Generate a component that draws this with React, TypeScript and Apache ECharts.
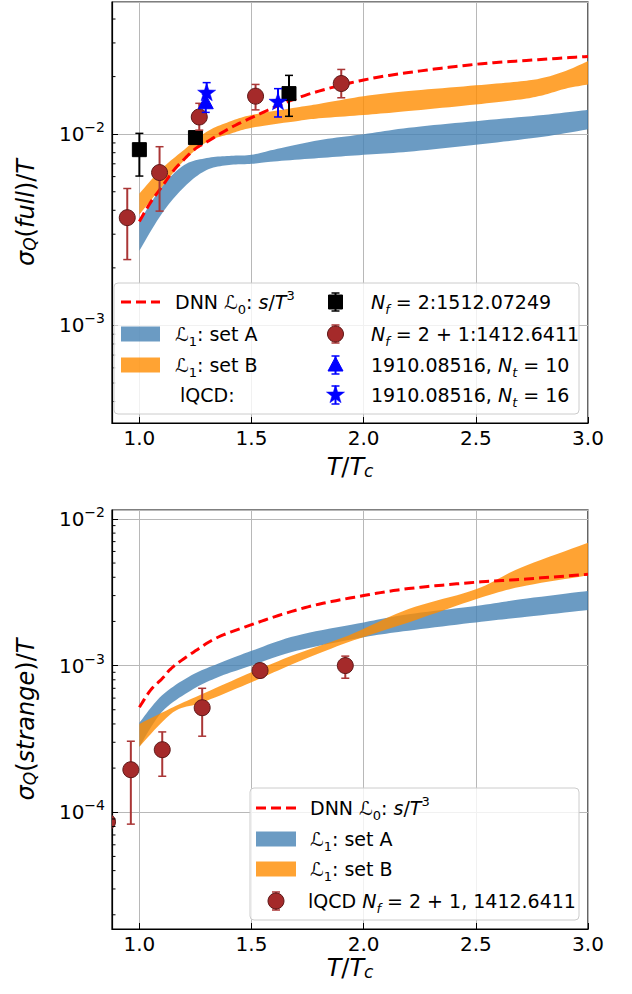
import React, { useEffect, useRef } from 'react';
import * as echarts from 'echarts';

const FONT = 'DejaVu Sans';

// ---------- axes ----------
const X_MIN = 0.878;
const X_MAX = 3.0;
const TOP_Y_MIN = 3.09e-4;
const TOP_Y_MAX = 4.91e-2;
const BOT_Y_MIN = 1.6e-5;
const BOT_Y_MAX = 1.15e-2;
const MINOR_MULTS = [2, 3, 4, 5, 6, 7, 8, 9];
const TOP_DECADES = [1e-4, 1e-3, 1e-2];
const BOT_DECADES = [1e-5, 1e-4, 1e-3, 1e-2];

// ---------- top panel: sigma_Q(full)/T ----------
const fullDnnX = [1.0, 1.05, 1.1, 1.15, 1.2, 1.25, 1.3, 1.4, 1.5, 1.65, 1.8, 2.0, 2.2, 2.5, 2.75, 3.0];
const fullDnnY = [3.5e-3, 4.4e-3, 5.3e-3, 6.4e-3, 7.4e-3, 8.4e-3, 9.1e-3, 1.07e-2, 1.22e-2, 1.46e-2, 1.68e-2, 1.92e-2, 2.1e-2, 2.32e-2, 2.44e-2, 2.55e-2];

const fullAX = [1.0, 1.1, 1.2, 1.3, 1.4, 1.5, 1.6, 1.8, 2.0, 2.2, 2.5, 2.8, 3.0];
const fullAUpper = [3.5e-3, 5.3e-3, 6.9e-3, 7.5e-3, 7.7e-3, 7.8e-3, 8.3e-3, 9.3e-3, 1.0e-2, 1.08e-2, 1.17e-2, 1.26e-2, 1.34e-2];
const fullALower = [2.46e-3, 3.84e-3, 5.3e-3, 6.5e-3, 6.9e-3, 7.0e-3, 7.2e-3, 7.5e-3, 7.8e-3, 8.1e-3, 8.8e-3, 9.7e-3, 1.06e-2];

const fullBX = [1.0, 1.1, 1.2, 1.3, 1.4, 1.5, 1.7, 1.8, 2.0, 2.2, 2.5, 2.7, 2.8, 2.9, 3.0];
const fullBUpper = [4.9e-3, 6.6e-3, 8.3e-3, 1.03e-2, 1.16e-2, 1.26e-2, 1.38e-2, 1.44e-2, 1.58e-2, 1.68e-2, 1.8e-2, 1.89e-2, 1.97e-2, 2.14e-2, 2.41e-2];
const fullBLower = [3.8e-3, 5.3e-3, 7.3e-3, 9.1e-3, 1.0e-2, 1.08e-2, 1.17e-2, 1.21e-2, 1.26e-2, 1.32e-2, 1.43e-2, 1.52e-2, 1.6e-2, 1.73e-2, 1.82e-2];

// lQCD N_f = 2 : 1512.07249 (squares)
const nf2X = [1.0, 1.25, 1.667];
const nf2Y = [8.3e-3, 9.6e-3, 1.63e-2];
const nf2Lo = [6.04e-3, 9.2e-3, 1.24e-2];
const nf2Hi = [1.01e-2, 1.0e-2, 2.03e-2];

// lQCD N_f = 2+1 : 1412.6411 (circles)
const nf21X = [0.946, 1.09, 1.267, 1.518, 1.9];
const nf21Y = [3.66e-3, 6.3e-3, 1.23e-2, 1.58e-2, 1.84e-2];
const nf21Lo = [2.21e-3, 3.96e-3, 1.05e-2, 1.34e-2, 1.55e-2];
const nf21Hi = [5.2e-3, 8.6e-3, 1.45e-2, 1.82e-2, 2.18e-2];

// 1910.08516, N_t = 10 (triangles)
const nt10X = [1.296];
const nt10Y = [1.46e-2];
const nt10Lo = [1.3e-2];
const nt10Hi = [1.62e-2];

// 1910.08516, N_t = 16 (stars)
const nt16X = [1.3, 1.618];
const nt16Y = [1.64e-2, 1.47e-2];
const nt16Lo = [1.4e-2, 1.23e-2];
const nt16Hi = [1.86e-2, 1.73e-2];

// ---------- bottom panel: sigma_Q(strange)/T ----------
const strDnnX = [1.0, 1.05, 1.1, 1.15, 1.25, 1.35, 1.5, 1.65, 1.8, 2.0, 2.2, 2.5, 2.7, 3.0];
const strDnnY = [5.2e-4, 6.8e-4, 8.1e-4, 9.8e-4, 1.26e-3, 1.56e-3, 1.9e-3, 2.27e-3, 2.62e-3, 3.0e-3, 3.35e-3, 3.7e-3, 3.87e-3, 4.19e-3];

const strAX = [1.0, 1.1, 1.23, 1.35, 1.5, 1.7, 2.0, 2.2, 2.5, 2.7, 3.0];
const strAUpper = [4.08e-4, 6.25e-4, 8.55e-4, 1.03e-3, 1.26e-3, 1.6e-3, 1.97e-3, 2.24e-3, 2.55e-3, 2.83e-3, 3.23e-3];
const strALower = [2.79e-4, 4.82e-4, 6.77e-4, 8.33e-4, 1.0e-3, 1.26e-3, 1.56e-3, 1.73e-3, 1.97e-3, 2.13e-3, 2.39e-3];

const strBX = [1.0, 1.15, 1.28, 1.5, 1.7, 1.93, 2.2, 2.5, 2.7, 3.0];
const strBUpper = [4.0e-4, 5.2e-4, 6.4e-4, 9.0e-4, 1.2e-3, 1.6e-3, 2.43e-3, 3.31e-3, 4.65e-3, 6.87e-3];
const strBLower = [2.8e-4, 4.8e-4, 5.6e-4, 7.7e-4, 1.05e-3, 1.44e-3, 1.97e-3, 2.83e-3, 3.45e-3, 4.12e-3];

const strLqX = [0.858, 0.962, 1.102, 1.28, 1.538, 1.918];
const strLqY = [8.6e-5, 1.95e-4, 2.67e-4, 5.16e-4, 9.25e-4, 1.0e-3];
const strLqLo = [6.5e-5, 8.3e-5, 1.76e-4, 3.3e-4, 8.3e-4, 8.2e-4];
const strLqHi = [1.15e-4, 3.05e-4, 3.53e-4, 7.0e-4, 1.0e-3, 1.16e-3];

// ---------- styles ----------
const C_BLUE = 'rgba(70,130,180,0.8)';
const C_ORANGE = 'rgba(255,140,0,0.8)';
const C_BROWN = '#a52a2a';
const C_BROWN_EDGE = '#5e1818';
const C_BROWN_ERR = '#aa3636';
const C_BLUEPT = '#0000ff';

type Kind = 'square' | 'circle' | 'triangle' | 'star';

const ERR_COLOR: Record<Kind, string> = {
  square: '#000000',
  circle: C_BROWN_ERR,
  triangle: C_BLUEPT,
  star: C_BLUEPT,
};

function starPoints(cx: number, cy: number, R: number, r: number) {
  const pts: number[][] = [];
  for (let k = 0; k < 10; k++) {
    const a = -Math.PI / 2 + (k * Math.PI) / 5;
    const rad = k % 2 === 0 ? R : r;
    pts.push([cx + rad * Math.cos(a), cy + rad * Math.sin(a)]);
  }
  return pts;
}

// Catmull-Rom smoothing of an already-projected pixel path (drawing only)
function smoothPath(pts: number[][], seg = 10): number[][] {
  if (pts.length < 3) return pts;
  const out: number[][] = [];
  const n = pts.length;
  for (let i = 0; i < n - 1; i++) {
    const p0 = pts[Math.max(i - 1, 0)];
    const p1 = pts[i];
    const p2 = pts[i + 1];
    const p3 = pts[Math.min(i + 2, n - 1)];
    for (let s = 0; s < seg; s++) {
      const t = s / seg;
      const t2 = t * t;
      const t3 = t2 * t;
      const f = (k: number) =>
        0.5 * (2 * p1[k] + (-p0[k] + p2[k]) * t + (2 * p0[k] - 5 * p1[k] + 4 * p2[k] - p3[k]) * t2 + (-p0[k] + 3 * p1[k] - 3 * p2[k] + p3[k]) * t3);
      out.push([f(0), f(1)]);
    }
  }
  out.push(pts[n - 1]);
  return out;
}

function markerEl(kind: Kind, cx: number, cy: number): any {
  switch (kind) {
    case 'square':
      return { type: 'rect', shape: { x: cx - 7, y: cy - 7, width: 14, height: 14 }, style: { fill: '#000', stroke: '#000', lineWidth: 1 } };
    case 'circle':
      return { type: 'circle', shape: { cx, cy, r: 8 }, style: { fill: C_BROWN, stroke: C_BROWN_EDGE, lineWidth: 1 } };
    case 'triangle':
      return { type: 'polygon', shape: { points: [[cx, cy - 8], [cx + 7.5, cy + 6], [cx - 7.5, cy + 6]] }, style: { fill: C_BLUEPT, stroke: C_BLUEPT, lineWidth: 1 } };
    default:
      return { type: 'polygon', shape: { points: starPoints(cx, cy, 9.5, 3.8) }, style: { fill: C_BLUEPT, stroke: C_BLUEPT, lineWidth: 0.5 } };
  }
}

function errEls(cx: number, yTop: number, yBot: number, color: string): any[] {
  const cap = 4;
  return [
    { type: 'line', shape: { x1: cx, y1: yTop, x2: cx, y2: yBot }, style: { stroke: color, lineWidth: 2 } },
    { type: 'line', shape: { x1: cx - cap, y1: yTop, x2: cx + cap, y2: yTop }, style: { stroke: color, lineWidth: 1.5 } },
    { type: 'line', shape: { x1: cx - cap, y1: yBot, x2: cx + cap, y2: yBot }, style: { stroke: color, lineWidth: 1.5 } },
  ];
}

function bandSeries(g: number, xs: number[], lo: number[], hi: number[], color: string, z: number) {
  return {
    type: 'custom',
    xAxisIndex: g,
    yAxisIndex: g,
    clip: true,
    silent: true,
    z,
    data: xs.map((x, i) => [x, lo[i], hi[i]]),
    encode: { x: 0, y: [1, 2] },
    renderItem: (params: any, api: any) => {
      if (params.dataIndexInside !== 0) return null;
      const n = params.dataInsideLength;
      const upper: number[][] = [];
      const lower: number[][] = [];
      for (let i = 0; i < n; i++) {
        upper.push(api.coord([api.value(0, i), api.value(2, i)]));
        lower.push(api.coord([api.value(0, i), api.value(1, i)]));
      }
      const up = smoothPath(upper);
      const lw = smoothPath(lower).reverse();
      return {
        type: 'polygon',
        shape: { points: up.concat(lw) },
        style: { fill: color },
      };
    },
  };
}

function dnnSeries(g: number, xs: number[], ys: number[]) {
  return {
    type: 'custom',
    xAxisIndex: g,
    yAxisIndex: g,
    clip: true,
    silent: true,
    z: 3,
    data: xs.map((x, i) => [x, ys[i]]),
    encode: { x: 0, y: 1 },
    renderItem: (params: any, api: any) => {
      if (params.dataIndexInside !== 0) return null;
      const n = params.dataInsideLength;
      const pts: number[][] = [];
      for (let i = 0; i < n; i++) pts.push(api.coord([api.value(0, i), api.value(1, i)]));
      return {
        type: 'polyline',
        shape: { points: smoothPath(pts) },
        style: { stroke: '#ff0000', lineWidth: 3, lineDash: [10, 5], fill: 'none' },
      };
    },
  };
}

function pointsSeries(g: number, xs: number[], ys: number[], lo: number[], hi: number[], kind: Kind) {
  return {
    type: 'custom',
    xAxisIndex: g,
    yAxisIndex: g,
    clip: true,
    silent: true,
    z: 4,
    data: xs.map((x, i) => [x, ys[i], lo[i], hi[i]]),
    encode: { x: 0, y: 1 },
    renderItem: (_params: any, api: any) => {
      const c = api.coord([api.value(0), api.value(1)]);
      const t = api.coord([api.value(0), api.value(3)]);
      const b = api.coord([api.value(0), api.value(2)]);
      return {
        type: 'group',
        children: [...errEls(c[0], t[1], b[1], ERR_COLOR[kind]), markerEl(kind, c[0], c[1])],
      };
    },
  };
}

function minorTickSeries(g: number, decades: number[], yMin: number, yMax: number) {
  const vals: number[][] = [];
  decades.forEach((d) => MINOR_MULTS.forEach((m) => {
    const v = d * m;
    if (v > yMin && v < yMax) vals.push([X_MIN, v]);
  }));
  return {
    type: 'custom',
    xAxisIndex: g,
    yAxisIndex: g,
    clip: false,
    silent: true,
    z: 6,
    data: vals,
    encode: { x: 0, y: 1 },
    renderItem: (_params: any, api: any) => {
      const p = api.coord([api.value(0), api.value(1)]);
      return { type: 'line', shape: { x1: p[0], y1: p[1], x2: p[0] + 3.5, y2: p[1] }, style: { stroke: '#000', lineWidth: 1 } };
    },
  };
}

function xAxisCfg(g: number) {
  return {
    type: 'value',
    gridIndex: g,
    min: X_MIN,
    max: X_MAX,
    position: 'bottom',
    axisLine: { show: true, onZero: false, lineStyle: { color: '#000', width: 1.2 } },
    axisTick: { show: true, inside: true, length: 6, lineStyle: { color: '#000', width: 1 } },
    axisLabel: {
      showMinLabel: false,
      fontSize: 20,
      lineHeight: 20,
      fontFamily: FONT,
      color: '#000',
      margin: 5,
      formatter: (v: number) => {
        const r = Math.round(v * 2) / 2;
        return Math.abs(v - r) < 1e-6 ? r.toFixed(1) : '';
      },
    },
    splitLine: { show: true, lineStyle: { color: '#b8b8b8', width: 1 } },
  };
}

function yAxisCfg(g: number, min: number, max: number) {
  return {
    type: 'log',
    logBase: 10,
    gridIndex: g,
    min,
    max,
    position: 'left',
    axisLine: { show: true, onZero: false, lineStyle: { color: '#000', width: 1.2 } },
    axisTick: { show: true, inside: true, length: 6, lineStyle: { color: '#000', width: 1 } },
    axisLabel: {
      showMinLabel: false,
      showMaxLabel: false,
      fontSize: 20,
      fontFamily: FONT,
      color: '#000',
      margin: 7,
      lineHeight: 28,
      formatter: (v: number) => {
        const e = Math.log10(v);
        const r = Math.round(e);
        if (Math.abs(e - r) > 1e-6) return '';
        return '10{sup|\u2212' + Math.abs(r) + '}';
      },
      rich: {
        sup: { fontSize: 14, lineHeight: 14, verticalAlign: 'top', fontFamily: FONT, color: '#000' },
      },
    },
    splitLine: { show: true, lineStyle: { color: '#b8b8b8', width: 1 } },
  };
}

function richFor(size: number, L: number, subH: number) {
  const small = Math.round(size * 0.7);
  const base = { fontFamily: FONT, fill: '#000' };
  return {
    it: { ...base, fontSize: size, fontStyle: 'italic', lineHeight: L },
    n: { ...base, fontSize: size, lineHeight: L },
    cal: { ...base, fontSize: size, lineHeight: L },
    sub: { ...base, fontSize: small, fontStyle: 'italic', lineHeight: subH, verticalAlign: 'bottom' },
    subn: { ...base, fontSize: small, lineHeight: subH, verticalAlign: 'bottom' },
    sup: { ...base, fontSize: small, lineHeight: small, verticalAlign: 'top' },
  };
}

function mathText(x: number, y: number, text: string, size: number, L: number, subH: number, opts: any = {}) {
  return {
    type: 'text',
    x,
    y,
    z: 100,
    rotation: opts.rotation || 0,
    silent: true,
    style: {
      text,
      fontFamily: FONT,
      fontSize: size,
      lineHeight: L,
      fill: '#000',
      align: opts.align || 'left',
      verticalAlign: 'middle',
      rich: richFor(size, L, subH),
    },
  };
}

function withZ(el: any, z: number) {
  return { ...el, z, silent: true };
}

function legendMarker(kind: Kind, cx: number, cy: number): any[] {
  return [...errEls(cx, cy - 9, cy + 9, ERR_COLOR[kind]), markerEl(kind, cx, cy)].map((e) => withZ(e, 101));
}

function buildGraphic() {
  const els: any[] = [];
  // axis titles
  els.push(mathText(26, 212.5, '{it|\u03c3}{sub|Q}({it|full})/{it|T}', 24, 24, 10, { align: 'center', rotation: Math.PI / 2 }));
  els.push(mathText(26, 719.5, '{it|\u03c3}{sub|Q}({it|strange})/{it|T}', 24, 24, 10, { align: 'center', rotation: Math.PI / 2 }));
  els.push(mathText(350, 467, '{it|T}/{it|T}{sub|c}', 24, 24, 10, { align: 'center' }));
  els.push(mathText(350, 968, '{it|T}/{it|T}{sub|c}', 24, 24, 10, { align: 'center' }));

  // ----- top legend -----
  els.push({
    type: 'rect', z: 99, silent: true,
    shape: { x: 114, y: 283, width: 465, height: 131, r: 4 },
    style: { fill: 'rgba(255,255,255,0.8)', stroke: '#cccccc', lineWidth: 1 },
  });
  const tRows = [302, 334, 365, 395];
  els.push(withZ({ type: 'line', shape: { x1: 121, y1: tRows[0], x2: 160, y2: tRows[0] }, style: { stroke: '#ff0000', lineWidth: 3, lineDash: [10, 5] } }, 101));
  els.push(withZ({ type: 'rect', shape: { x: 121, y: tRows[1] - 7.5, width: 39, height: 15 }, style: { fill: C_BLUE } }, 101));
  els.push(withZ({ type: 'rect', shape: { x: 121, y: tRows[2] - 7.5, width: 39, height: 15 }, style: { fill: C_ORANGE } }, 101));
  els.push(mathText(175, tRows[0], 'DNN {cal|\u2112}{subn|0}: {it|s}/{it|T}{sup|3}', 19, 27, 15));
  els.push(mathText(175, tRows[1], '{cal|\u2112}{subn|1}: set A', 19, 27, 15));
  els.push(mathText(175, tRows[2], '{cal|\u2112}{subn|1}: set B', 19, 27, 15));
  els.push(mathText(180, tRows[3], 'lQCD:', 19, 27, 15));
  els.push(...legendMarker('square', 335.5, tRows[0]));
  els.push(...legendMarker('circle', 335.5, tRows[1]));
  els.push(...legendMarker('triangle', 335.5, tRows[2]));
  els.push(...legendMarker('star', 335.5, tRows[3]));
  els.push(mathText(371, tRows[0], '{it|N}{sub|f} = 2:1512.07249', 19, 27, 15));
  els.push(mathText(371, tRows[1], '{it|N}{sub|f} = 2 + 1:1412.6411', 19, 27, 15));
  els.push(mathText(371, tRows[2], '1910.08516, {it|N}{sub|t} = 10', 19, 27, 15));
  els.push(mathText(371, tRows[3], '1910.08516, {it|N}{sub|t} = 16', 19, 27, 15));

  // ----- bottom legend -----
  els.push({
    type: 'rect', z: 99, silent: true,
    shape: { x: 250, y: 788, width: 329, height: 132, r: 4 },
    style: { fill: 'rgba(255,255,255,0.8)', stroke: '#cccccc', lineWidth: 1 },
  });
  const bRows = [808, 839, 869, 901];
  els.push(withZ({ type: 'line', shape: { x1: 256, y1: bRows[0], x2: 296, y2: bRows[0] }, style: { stroke: '#ff0000', lineWidth: 3, lineDash: [10, 5] } }, 101));
  els.push(withZ({ type: 'rect', shape: { x: 256, y: bRows[1] - 7.5, width: 40, height: 15 }, style: { fill: C_BLUE } }, 101));
  els.push(withZ({ type: 'rect', shape: { x: 256, y: bRows[2] - 7.5, width: 40, height: 15 }, style: { fill: C_ORANGE } }, 101));
  els.push(...legendMarker('circle', 276, bRows[3]));
  els.push(mathText(310, bRows[0], 'DNN {cal|\u2112}{subn|0}: {it|s}/{it|T}{sup|3}', 19, 27, 15));
  els.push(mathText(310, bRows[1], '{cal|\u2112}{subn|1}: set A', 19, 27, 15));
  els.push(mathText(310, bRows[2], '{cal|\u2112}{subn|1}: set B', 19, 27, 15));
  els.push(mathText(308, bRows[3], 'lQCD {it|N}{sub|f} = 2 + 1, 1412.6411', 19, 27, 15));
  return els;
}

function buildOption() {
  return {
    animation: false,
    backgroundColor: '#ffffff',
    grid: [
      { left: 112, top: 2, width: 476, height: 421, show: true, borderColor: '#000', borderWidth: 1.2, backgroundColor: 'transparent' },
      { left: 112, top: 510, width: 476, height: 419, show: true, borderColor: '#000', borderWidth: 1.2, backgroundColor: 'transparent' },
    ],
    xAxis: [xAxisCfg(0), xAxisCfg(1)],
    yAxis: [yAxisCfg(0, TOP_Y_MIN, TOP_Y_MAX), yAxisCfg(1, BOT_Y_MIN, BOT_Y_MAX)],
    series: [
      bandSeries(0, fullAX, fullALower, fullAUpper, C_BLUE, 1),
      bandSeries(0, fullBX, fullBLower, fullBUpper, C_ORANGE, 2),
      dnnSeries(0, fullDnnX, fullDnnY),
      pointsSeries(0, nf2X, nf2Y, nf2Lo, nf2Hi, 'square'),
      pointsSeries(0, nf21X, nf21Y, nf21Lo, nf21Hi, 'circle'),
      pointsSeries(0, nt10X, nt10Y, nt10Lo, nt10Hi, 'triangle'),
      pointsSeries(0, nt16X, nt16Y, nt16Lo, nt16Hi, 'star'),
      minorTickSeries(0, TOP_DECADES, TOP_Y_MIN, TOP_Y_MAX),

      bandSeries(1, strAX, strALower, strAUpper, C_BLUE, 1),
      bandSeries(1, strBX, strBLower, strBUpper, C_ORANGE, 2),
      dnnSeries(1, strDnnX, strDnnY),
      pointsSeries(1, strLqX, strLqY, strLqLo, strLqHi, 'circle'),
      minorTickSeries(1, BOT_DECADES, BOT_Y_MIN, BOT_Y_MAX),
    ],
    graphic: buildGraphic(),
  };
}

export default function App() {
  const ref = useRef<HTMLDivElement>(null);
  useEffect(() => {
    if (!ref.current) return;
    const chart = echarts.init(ref.current, null, { renderer: 'svg' });
    chart.setOption(buildOption() as any);
    return () => {
      chart.dispose();
    };
  }, []);
  return (
    <div
      ref={ref}
      style={{ position: 'absolute', left: 0, top: 0, width: 632, height: 994, background: '#fff' }}
    />
  );
}
